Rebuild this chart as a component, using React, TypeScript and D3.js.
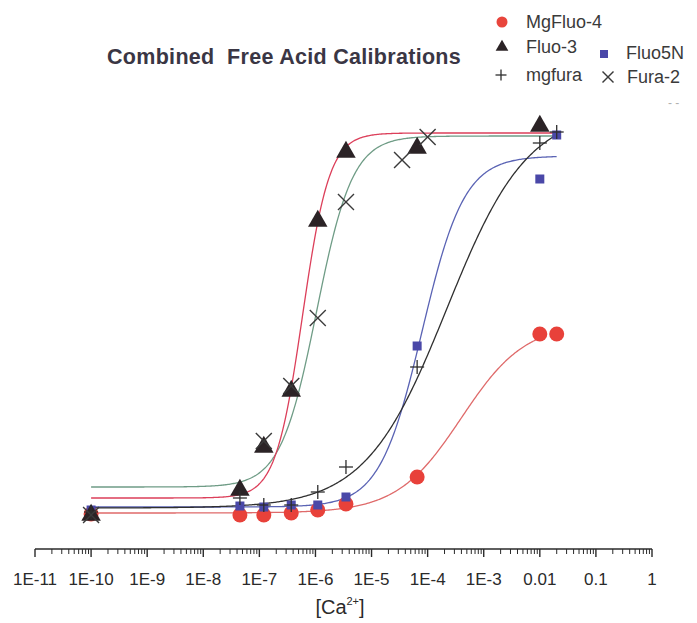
import React from "react";
import * as d3 from "d3";

// ---- data (concentrations in M, signal in arbitrary units) ----
const fluo3X = [1e-10, 4.5e-8, 1.2e-7, 3.7e-7, 1.1e-6, 3.5e-6, 6.5e-5, 0.01];
const fluo3Y = [1.25, 7.5, 18.25, 32.25, 74.75, 92, 93, 98.5];

const fura2X = [1e-10, 1.2e-7, 3.7e-7, 1.1e-6, 3.5e-6, 3.5e-5, 1e-4];
const fura2Y = [1.25, 19.75, 33.5, 50.5, 79.5, 90, 95.75];

const mgFluo4X = [1e-10, 4.5e-8, 1.2e-7, 3.7e-7, 1.1e-6, 3.5e-6, 6.5e-5, 0.01, 0.02];
const mgFluo4Y = [1.5, 1.25, 1.25, 1.75, 2.5, 4, 10.75, 46.5, 46.5];

const fluo5NX = [1e-10, 4.5e-8, 1.2e-7, 3.7e-7, 1.1e-6, 3.5e-6, 6.5e-5, 0.01, 0.02];
const fluo5NY = [2.5, 3.5, 3.25, 3.75, 3.75, 5.75, 43.5, 85.25, 96.25];

const mgfuraX = [1e-10, 4.5e-8, 1.2e-7, 3.7e-7, 1.1e-6, 3.5e-6, 6.5e-5, 0.01, 0.02];
const mgfuraY = [2, 5.5, 3.75, 3.75, 7, 13.25, 38.25, 94.25, 97];

// Hill fit parameters: [bottom, top, logEC50, hill, logStart, logEnd]
const fluo3Fit = [5.5, 96.75, -6.23, 1.81, -10, -1.7];
const fura2Fit = [8.25, 96, -5.98, 1.35, -10, -1.7];
const fluo5NFit = [3.25, 91, -4.1, 1.15, -10, -1.7];
const mgfuraFit = [3, 102.5, -3.66, 0.6, -10, -1.7];
const mgFluo4Fit = [1.75, 49.25, -3.4, 0.76, -10, -2];

const tickLabels = ["1E-11", "1E-10", "1E-9", "1E-8", "1E-7", "1E-6", "1E-5", "1E-4", "1E-3", "0.01", "0.1", "1"];
const decades = d3.range(-11, 1);

const W = 697;
const H = 623;

const x = d3.scaleLog().domain([1e-11, 1]).range([35, 652]);
const y = d3.scaleLinear().domain([0, 100]).range([520, 120]);

function curvePath(fit: number[]) {
  const [b, t, l, n, s, e] = fit;
  const pts = d3.range(s, e + 1e-9, 0.02).map((lx) => {
    const v = b + (t - b) / (1 + Math.pow(10, n * (l - lx)));
    return [x(Math.pow(10, lx)), y(v)] as [number, number];
  });
  return d3.line()(pts) || "";
}

const triPath = d3.symbol().type(d3.symbolTriangle).size(165)() || "";

function Tri({ cx, cy, s = 1 }: { cx: number; cy: number; s?: number }) {
  return <path d={triPath} transform={`translate(${cx},${cy}) scale(${s})`} fill="#2b2326" />;
}
function Plus({ cx, cy, r = 7 }: { cx: number; cy: number; r?: number }) {
  return (
    <g stroke="#2e2e2e" strokeWidth={1.3}>
      <line x1={cx - r} x2={cx + r} y1={cy} y2={cy} />
      <line x1={cx} x2={cx} y1={cy - r} y2={cy + r} />
    </g>
  );
}
function Cross({ cx, cy, r = 8 }: { cx: number; cy: number; r?: number }) {
  return (
    <g stroke="#3a3a3a" strokeWidth={1.4}>
      <line x1={cx - r} x2={cx + r} y1={cy - r} y2={cy + r} />
      <line x1={cx - r} x2={cx + r} y1={cy + r} y2={cy - r} />
    </g>
  );
}

export default function App() {
  const minor: number[] = [];
  decades.slice(0, -1).forEach((d) => {
    for (let k = 2; k <= 9; k++) minor.push(k * Math.pow(10, d));
  });
  const font = "Liberation Sans, Arial, sans-serif";
  return (
    <svg width={W} height={H} style={{ position: "absolute", left: 0, top: 0, background: "#fff" }}>
      {/* title */}
      <text x={107} y={64} fontFamily={font} fontWeight="bold" fontSize={21.5} letterSpacing={0.3} fill="#3a3644">
        {"Combined\u00a0\u00a0Free Acid Calibrations"}
      </text>

      {/* legend */}
      <g fontFamily={font} fontSize={18} fill="#3a3a3a">
        <circle cx={502} cy={22} r={5.5} fill="#e8453c" />
        <text x={526} y={28}>MgFluo-4</text>
        <Tri cx={502} cy={47} s={0.65} />
        <text x={526} y={53}>Fluo-3</text>
        <Plus cx={501} cy={75} r={5.5} />
        <text x={526} y={81}>mgfura</text>
        <rect x={600} y={50} width={8} height={8} fill="#4a48a8" />
        <text x={626} y={59}>Fluo5N</text>
        <Cross cx={608} cy={77} r={5.5} />
        <text x={627} y={83}>Fura-2</text>
        <text x={668} y={107} fontSize={12} fill="#b0b0b0">- -</text>
      </g>

      {/* fitted curves */}
      <g fill="none" strokeWidth={1.3}>
        <path d={curvePath(fura2Fit)} stroke="#6f9c86" />
        <path d={curvePath(fluo3Fit)} stroke="#dc3f5a" />
        <path d={curvePath(fluo5NFit)} stroke="#5a63b4" />
        <path d={curvePath(mgfuraFit)} stroke="#303030" />
        <path d={curvePath(mgFluo4Fit)} stroke="#df6a6a" />
      </g>

      {/* markers */}
      {mgFluo4X.map((c, i) => (
        <circle key={"m" + i} cx={x(c)} cy={y(mgFluo4Y[i])} r={7.5} fill="#e8413a" />
      ))}
      {fluo5NX.map((c, i) => (
        <rect key={"s" + i} x={x(c) - 4.5} y={y(fluo5NY[i]) - 4.5} width={9} height={9} fill="#4a48a8" />
      ))}
      {fluo3X.map((c, i) => (
        <Tri key={"t" + i} cx={x(c)} cy={y(fluo3Y[i])} />
      ))}
      {mgfuraX.map((c, i) => (
        <Plus key={"p" + i} cx={x(c)} cy={y(mgfuraY[i])} />
      ))}
      {fura2X.map((c, i) => (
        <Cross key={"c" + i} cx={x(c)} cy={y(fura2Y[i])} />
      ))}

      {/* x axis */}
      <g stroke="#2a2a2a">
        <line x1={x(1e-11)} x2={x(1)} y1={549} y2={549} strokeWidth={1.6} />
        {decades.map((d) => (
          <line key={"M" + d} x1={x(Math.pow(10, d))} x2={x(Math.pow(10, d))} y1={549} y2={557} strokeWidth={1.4} />
        ))}
        {minor.map((v, i) => (
          <line key={"mn" + i} x1={x(v)} x2={x(v)} y1={549} y2={554} strokeWidth={1} />
        ))}
      </g>
      <g fontFamily={font} fontSize={17} fill="#2a2a2a" textAnchor="middle">
        {decades.map((d, i) => (
          <text key={"l" + d} x={x(Math.pow(10, d))} y={585}>
            {tickLabels[i]}
          </text>
        ))}
      </g>
      <text x={340} y={614} fontFamily={font} fontSize={20} fill="#2a2a2a" textAnchor="middle">
        [Ca<tspan fontSize={11} dy={-9}>2+</tspan>
        <tspan dy={9}>]</tspan>
      </text>
    </svg>
  );
}
